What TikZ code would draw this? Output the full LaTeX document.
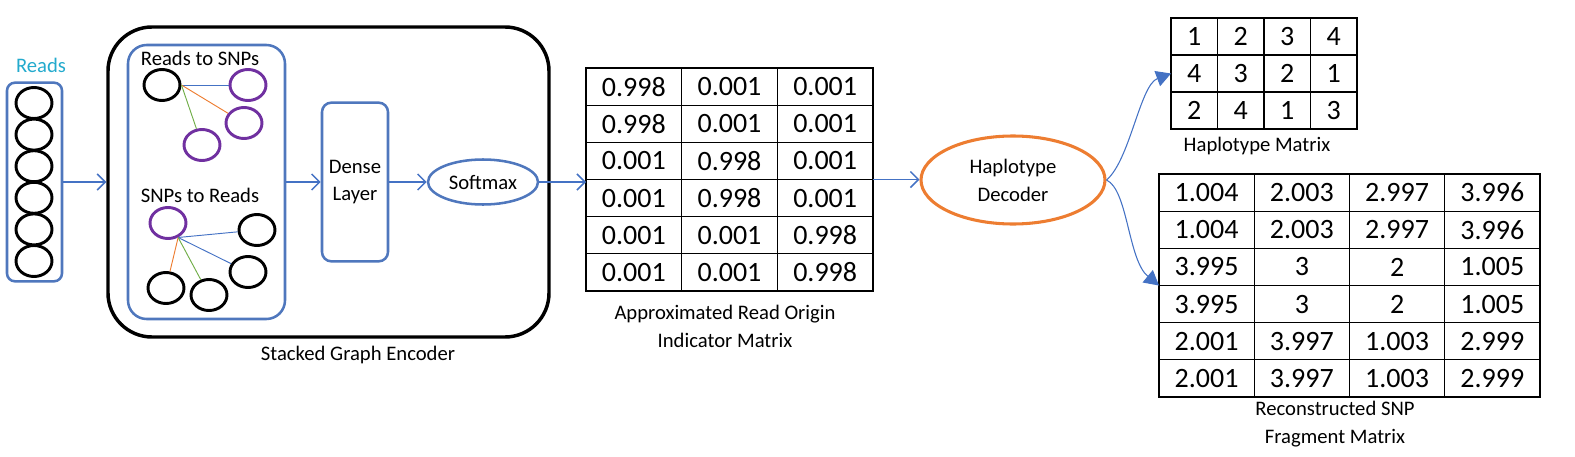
\documentclass[tikz,border=0pt]{standalone}
\usepackage{fontspec}
\setmainfont{Carlito}
\usetikzlibrary{arrows.meta,shapes.geometric}
\definecolor{cblue}{RGB}{68,114,196}
\definecolor{bbox}{RGB}{79,119,189}
\definecolor{cpurple}{RGB}{112,48,160}
\definecolor{corange}{RGB}{237,125,49}
\definecolor{cgreen}{RGB}{112,173,71}
\definecolor{ccyan}{RGB}{35,170,205}
\begin{document}
\begin{tikzpicture}[x=0.75pt,y=-0.75pt,
  lbl/.style={font=\fontsize{15.5}{21}\selectfont, inner sep=0, align=center},
  cell/.style={draw, line width=0.9pt, inner sep=0, outer sep=0, font=\fontsize{21}{25}\selectfont},
  bcirc/.style={ellipse, draw, line width=2.2pt, minimum width=27pt, minimum height=23.25pt, inner sep=0},
  pcirc/.style={bcirc, draw=cpurple},
  bluebox/.style={draw=bbox, line width=1.9pt, inner sep=0},
  arr/.style={draw=cblue, line width=1.1pt, -{Straight Barb[length=6pt,width=12pt,line width=1.1pt]}},
  carr/.style={draw=cblue, line width=0.8pt, -{Triangle[length=11pt,width=12pt]}},
  edge/.style={line width=0.7pt}
]
\useasboundingbox (0,0) rectangle (1575,457);

% Reads column
\node[lbl, text=ccyan] (readslbl) at (41,65) {Reads};
\node[bluebox, rounded corners=6pt, minimum width=41.25pt, minimum height=149pt] (reads) at (34.5,182) {};
\foreach \i in {1,...,6}
  \node[bcirc] (c\i) at (34,{103+31.6*(\i-1)}) {};

% Encoder
\node[draw, line width=2.6pt, rounded corners=33pt, minimum width=330.75pt, minimum height=232.5pt, inner sep=0] (enc) at (328.5,182) {};
\node[lbl] (enclbl) at (358,355) {Stacked Graph Encoder};
\node[bluebox, rounded corners=14pt, minimum width=117.75pt, minimum height=205.5pt] (inner) at (206.5,182) {};

\node[lbl] (t1) at (200,58) {Reads to SNPs};
\node[bcirc] (r0) at (162,85) {};
\node[pcirc] (p1) at (248,85) {};
\node[pcirc] (p2) at (244,123) {};
\node[pcirc] (p3) at (202,145) {};
\draw[edge, draw=cblue] (r0.east) -- (p1);
\draw[edge, draw=corange] (r0.east) -- (p2);
\draw[edge, draw=cgreen] (r0.east) -- (p3);

\node[lbl] (t2) at (200,195) {SNPs to Reads};
\node[pcirc] (q0) at (168,223) {};
\node[bcirc] (b1) at (257,230) {};
\node[bcirc] (b2) at (248,272) {};
\node[bcirc] (b3) at (166,288) {};
\node[bcirc] (b4) at (209,295) {};
\draw[edge, draw=cblue] (q0.-55) -- (b1);
\draw[edge, draw=cblue] (q0.-55) -- (b2);
\draw[edge, draw=corange] (q0.-55) -- (b3);
\draw[edge, draw=cgreen] (q0.-55) -- (b4);

\node[bluebox, rounded corners=7pt, minimum width=49.5pt, minimum height=119pt, lbl, font=\fontsize{15.5}{20}\selectfont] (dense) at (355,182) {Dense\\Layer};
\node[ellipse, bluebox, minimum width=82.5pt, minimum height=33.75pt, lbl] (soft) at (483,182) {Softmax};

% Matrix 1
\foreach \row [count=\r] in {{0.998,0.001,0.001},{0.998,0.001,0.001},{0.001,0.998,0.001},{0.001,0.998,0.001},{0.001,0.001,0.998},{0.001,0.001,0.998}}{
  \foreach \v [count=\c] in \row {
    \node[cell, minimum width=71.75pt, minimum height=27.9pt] (m1-\r-\c) at ({586+(\c-0.5)*95.67},{68+(\r-0.5)*37.17}) {\v};
  }
}
\node[lbl] (m1lbl) at (725,326) {Approximated Read Origin\\Indicator Matrix};

% Decoder
\node[ellipse, draw=corange, line width=2.3pt, minimum width=138pt, minimum height=66pt, lbl] (dec) at (1013,180) {Haplotype\\Decoder};

% Haplotype matrix
\foreach \row [count=\r] in {{1,2,3,4},{4,3,2,1},{2,4,1,3}}{
  \foreach \v [count=\c] in \row {
    \node[cell, minimum width=34.875pt, minimum height=27.75pt] (h-\r-\c) at ({1171+(\c-0.5)*46.5},{18+(\r-0.5)*37}) {\v};
  }
}
\node[lbl] (hlbl) at (1257,146) {Haplotype Matrix};

% Reconstructed matrix
\foreach \row [count=\r] in {{1.004,2.003,2.997,3.996},{1.004,2.003,2.997,3.996},{3.995,3,2,1.005},{3.995,3,2,1.005},{2.001,3.997,1.003,2.999},{2.001,3.997,1.003,2.999}}{
  \foreach \v [count=\c] in \row {
    \node[cell, minimum width=71.44pt, minimum height=27.9pt] (m2-\r-\c) at ({1159+(\c-0.5)*95.25},{174+(\r-0.5)*37.17}) {\v};
  }
}
\node[lbl] (m2lbl) at (1335,424) {Reconstructed SNP\\Fragment Matrix};

% Connectors
\draw[arr] (reads) -- (enc);
\draw[arr] (inner) -- (dense);
\draw[arr] (dense) -- (soft);
\draw[arr] (soft.east) -- (soft.east -| m1-3-1.west);
\draw[arr] (m1-3-3.south east) -- (m1-3-3.south east -| dec.west);
\draw[carr] (dec.east) .. controls (1130,160) and (1140,85) .. (h-2-1.west);
\draw[carr] (dec.east) .. controls (1128,190) and (1128,260) .. (m2-3-1.south west);
\end{tikzpicture}
\end{document}
